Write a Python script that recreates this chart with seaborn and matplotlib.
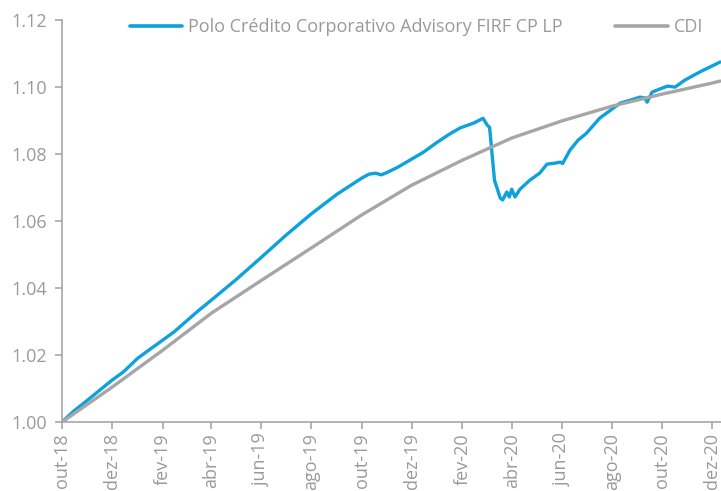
import pandas as pd
import matplotlib.pyplot as plt
import matplotlib.dates as mdates
import matplotlib.ticker as mticker
import seaborn as sns

# fund series
fund_dates = ["2018-10-01", "2018-10-15", "2018-11-01", "2018-11-15", "2018-12-01", "2018-12-15",
              "2019-01-01", "2019-01-15", "2019-02-01", "2019-02-15", "2019-03-01", "2019-03-15",
              "2019-04-01", "2019-05-01", "2019-06-01", "2019-07-01", "2019-08-01", "2019-09-01",
              "2019-10-01", "2019-10-10", "2019-10-18", "2019-10-25", "2019-11-01", "2019-11-15",
              "2019-12-01", "2019-12-15", "2020-01-01", "2020-01-15", "2020-01-29", "2020-02-15",
              "2020-02-26", "2020-03-02", "2020-03-05", "2020-03-11", "2020-03-18", "2020-03-21",
              "2020-03-26", "2020-03-29", "2020-04-01", "2020-04-05", "2020-04-11", "2020-04-23",
              "2020-05-05", "2020-05-14", "2020-05-24", "2020-05-30", "2020-06-02", "2020-06-11",
              "2020-06-21", "2020-07-01", "2020-07-17", "2020-08-11", "2020-08-25", "2020-09-04",
              "2020-09-10", "2020-09-13", "2020-09-19", "2020-09-28", "2020-10-08", "2020-10-17",
              "2020-10-29", "2020-11-16", "2020-12-11"]
fund_values = [1.0000, 1.0032, 1.0065, 1.0093, 1.0125, 1.0150,
               1.0190, 1.0215, 1.0245, 1.0270, 1.0300, 1.0330,
               1.0364, 1.0425, 1.0492, 1.0558, 1.0622, 1.0680,
               1.0728, 1.0740, 1.0743, 1.0738, 1.0745, 1.0762,
               1.0785, 1.0805, 1.0835, 1.0858, 1.0878, 1.0893,
               1.0907, 1.0887, 1.0880, 1.0722, 1.0669, 1.0663,
               1.0687, 1.0672, 1.0695, 1.0672, 1.0695, 1.0722,
               1.0743, 1.0770, 1.0773, 1.0776, 1.0772, 1.0812,
               1.0842, 1.0862, 1.0907, 1.0952, 1.0962, 1.0970,
               1.0968, 1.0955, 1.0985, 1.0994, 1.1003, 1.1000,
               1.1021, 1.1045, 1.1075]

# CDI series
cdi_dates = ["2018-10-01", "2018-12-01", "2019-02-01", "2019-04-01", "2019-06-01", "2019-08-01",
             "2019-10-01", "2019-12-01", "2020-02-01", "2020-04-01", "2020-06-01", "2020-08-01",
             "2020-10-01", "2020-12-01", "2020-12-11"]
cdi_values = [1.0000, 1.0104, 1.0215, 1.0325, 1.0423, 1.0520,
              1.0618, 1.0707, 1.0782, 1.0848, 1.0899, 1.0943,
              1.0979, 1.1012, 1.1018]

fund_name = "Polo Crédito Corporativo Advisory FIRF CP LP"
cdi_name = "CDI"
month_names = {2: "fev", 4: "abr", 6: "jun", 8: "ago", 10: "out", 12: "dez"}

df = pd.concat([
    pd.DataFrame({"data": pd.to_datetime(fund_dates), "valor": fund_values, "serie": fund_name}),
    pd.DataFrame({"data": pd.to_datetime(cdi_dates), "valor": cdi_values, "serie": cdi_name}),
])

sns.set_style("white")
plt.rcParams['font.family'] = ['Open Sans', 'DejaVu Sans']

grey_txt = "#9a9a9a"
axis_col = "#a6a6a6"

fig = plt.figure(figsize=(7.21, 4.91), dpi=100)
ax = fig.add_axes([0.086, 0.1405, 0.914, 0.8185])

sns.lineplot(data=df, x="data", y="valor", hue="serie",
             palette={fund_name: "#0da2dc", cdi_name: "#a6a6a6"},
             linewidth=2.4, ax=ax)

ax.set_xlim(pd.Timestamp("2018-10-01"), pd.Timestamp("2020-12-12"))
ax.set_ylim(1.00, 1.12)
ax.yaxis.set_major_locator(mticker.MultipleLocator(0.02))
ax.yaxis.set_major_formatter(mticker.FormatStrFormatter("%.2f"))
ax.xaxis.set_major_locator(mdates.MonthLocator(bymonth=[2, 4, 6, 8, 10, 12]))
ax.xaxis.set_major_formatter(mticker.FuncFormatter(
    lambda v, p: month_names[mdates.num2date(v).month] + "-" + mdates.num2date(v).strftime("%y")))

ax.set_xlabel("")
ax.set_ylabel("")
for s in ["top", "right"]:
    ax.spines[s].set_visible(False)
for s in ["left", "bottom"]:
    ax.spines[s].set_color(axis_col)
    ax.spines[s].set_linewidth(1.2)
ax.tick_params(axis="both", which="major", direction="out", length=5, width=1.2,
               color=axis_col, labelcolor=grey_txt, labelsize=13, left=True, bottom=True)
ax.tick_params(axis="x", labelrotation=90, pad=3)
ax.tick_params(axis="y", pad=6)

handles, labels = ax.get_legend_handles_labels()
leg = ax.legend(handles, labels, loc="center", bbox_to_anchor=(0.538, 0.983), ncol=2,
                frameon=False, fontsize=13, handlelength=2.9, handletextpad=0.33,
                columnspacing=2.9, labelcolor=grey_txt)
for line in leg.get_lines():
    line.set_linewidth(2.6)

fig.savefig("out.png", dpi=100)
